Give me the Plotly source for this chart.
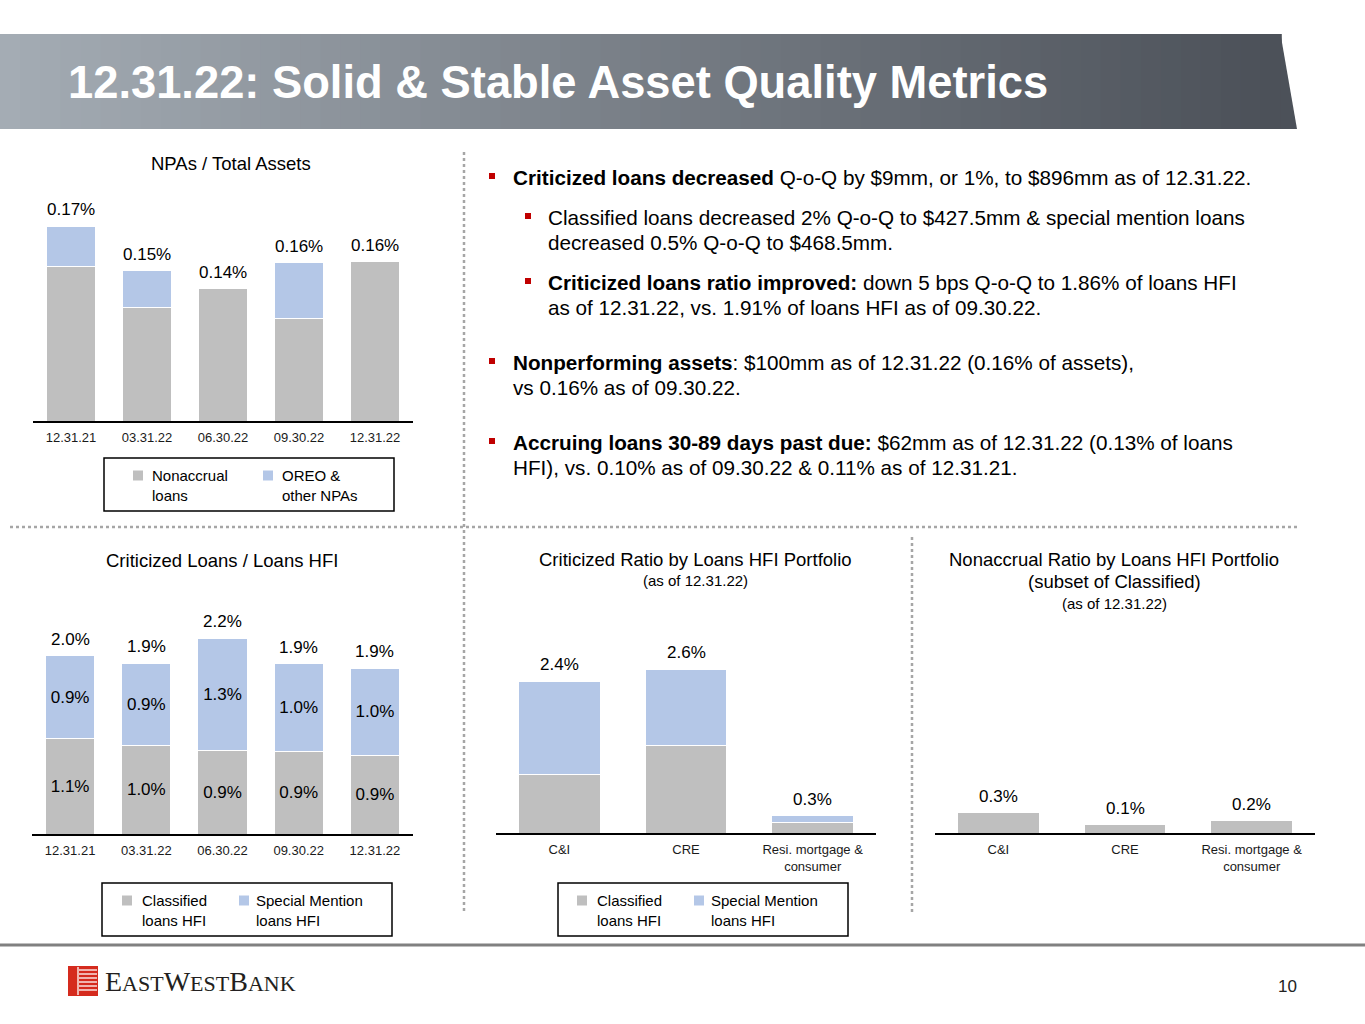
import numpy as np
import plotly.graph_objects as go

W = 1365
H = 1024

GRAY = "#bfbfbf"
BLUE = "#b4c7e7"
RED = "#c00000"
FONT = "Arial, Liberation Sans, sans-serif"

# NPAs / Total Assets
npa_dates = ["12.31.21", "03.31.22", "06.30.22", "09.30.22", "12.31.22"]
npa_nonaccrual = [0.155, 0.114, 0.133, 0.103, 0.160]
npa_oreo = [0.041, 0.037, 0.0, 0.056, 0.0]
npa_labels = ["0.17%", "0.15%", "0.14%", "0.16%", "0.16%"]

# Criticized Loans / Loans HFI
crit_dates = ["12.31.21", "03.31.22", "06.30.22", "09.30.22", "12.31.22"]
crit_classified = [1.07, 0.99, 0.93, 0.92, 0.88]
crit_special = [0.92, 0.92, 1.26, 0.98, 0.97]
crit_classified_labels = ["1.1%", "1.0%", "0.9%", "0.9%", "0.9%"]
crit_special_labels = ["0.9%", "0.9%", "1.3%", "1.0%", "1.0%"]
crit_total_labels = ["2.0%", "1.9%", "2.2%", "1.9%", "1.9%"]

# Criticized ratio by portfolio (as of 12.31.22)
portfolios = ["C&I", "CRE", "Resi. mortgage &<br>consumer"]
port_classified = [0.93, 1.39, 0.17]
port_special = [1.47, 1.20, 0.10]
port_labels = ["2.4%", "2.6%", "0.3%"]

# Nonaccrual ratio by portfolio (as of 12.31.22)
nonaccrual_ratio = [0.32, 0.13, 0.19]
nonaccrual_labels = ["0.3%", "0.1%", "0.2%"]

# bullet text: (level, lines)
bullets = [
    (0, ["<b>Criticized loans decreased</b> Q-o-Q by $9mm, or 1%, to $896mm as of 12.31.22."]),
    (1, ["Classified loans decreased 2% Q-o-Q to $427.5mm & special mention loans",
         "decreased 0.5% Q-o-Q to $468.5mm."]),
    (1, ["<b>Criticized loans ratio improved:</b> down 5 bps Q-o-Q to 1.86% of loans HFI",
         "as of 12.31.22, vs. 1.91% of loans HFI as of 09.30.22."]),
    (0, ["<b>Nonperforming assets</b>: $100mm as of 12.31.22 (0.16% of assets),",
         "vs 0.16% as of 09.30.22."]),
    (0, ["<b>Accruing loans 30-89 days past due:</b> $62mm as of 12.31.22 (0.13% of loans",
         "HFI), vs. 0.10% as of 09.30.22 & 0.11% as of 12.31.21."]),
]
bullet_y = [177, 217, 282, 362, 442]


def X(p):
    return p / W


def Y(p):
    return 1 - p / H


fig = go.Figure()


def setup_axes(n, x0, x1, base, top, px_per_unit):
    xa = "xaxis" if n == 1 else "xaxis%d" % n
    ya = "yaxis" if n == 1 else "yaxis%d" % n
    fig.update_layout(**{
        xa: dict(domain=[X(x0), X(x1)], anchor="y" if n == 1 else "y%d" % n,
                 showline=True, linecolor="black", linewidth=2, showgrid=False,
                 ticks="", ticklabelstandoff=3, tickfont=dict(size=13, color="#1a1a1a"),
                 fixedrange=True),
        ya: dict(domain=[Y(base), Y(top)], anchor="x" if n == 1 else "x%d" % n,
                 range=[0, (base - top) / px_per_unit], visible=False, fixedrange=True),
    })
    return ("x" if n == 1 else "x%d" % n), ("y" if n == 1 else "y%d" % n)


def bar(xr, yr, cats, vals, color, text=None):
    fig.add_trace(go.Bar(
        x=cats, y=vals, xaxis=xr, yaxis=yr, width=0.645,
        marker=dict(color=color, line=dict(color="white", width=1)),
        text=text, textposition="inside" if text else None, insidetextanchor="middle",
        textangle=0, textfont=dict(size=17, color="black"),
        showlegend=False, hoverinfo="skip"))


def totals(xr, yr, cats, tots, labels):
    for c, t, lab in zip(cats, tots, labels):
        fig.add_annotation(x=c, y=t, xref=xr, yref=yr, text=lab, showarrow=False,
                           yanchor="bottom", yshift=5, font=dict(size=17, color="black"))


# chart 1
xr, yr = setup_axes(1, 33, 413, 421, 201, 994)
bar(xr, yr, npa_dates, npa_nonaccrual, GRAY)
bar(xr, yr, npa_dates, npa_oreo, BLUE)
totals(xr, yr, npa_dates, np.add(npa_nonaccrual, npa_oreo), npa_labels)

# chart 2
xr, yr = setup_axes(2, 32, 413, 834, 614, 89.5)
bar(xr, yr, crit_dates, crit_classified, GRAY, crit_classified_labels)
bar(xr, yr, crit_dates, crit_special, BLUE, crit_special_labels)
totals(xr, yr, crit_dates, np.add(crit_classified, crit_special), crit_total_labels)

# chart 3
xr, yr = setup_axes(3, 496, 876, 833, 613, 63.3)
bar(xr, yr, portfolios, port_classified, GRAY)
bar(xr, yr, portfolios, port_special, BLUE)
totals(xr, yr, portfolios, np.add(port_classified, port_special), port_labels)

# chart 4
xr, yr = setup_axes(4, 935, 1315, 833, 613, 63.3)
bar(xr, yr, portfolios, nonaccrual_ratio, GRAY)
totals(xr, yr, portfolios, nonaccrual_ratio, nonaccrual_labels)

shapes = []
annotations = []


def text(x, y, s, size, color="black", anchor="center", bold=False):
    if anchor == "left":
        x -= 2
    annotations.append(dict(x=X(x), y=Y(y), xref="paper", yref="paper", text=s,
                            showarrow=False, xanchor=anchor, yanchor="middle",
                            font=dict(size=size, color=color, family=FONT),
                            align="left" if anchor == "left" else "center"))


def rect(x0, y0, x1, y1, fill=None, line=None, lw=1.5):
    shapes.append(dict(type="rect", xref="paper", yref="paper", x0=X(x0), x1=X(x1),
                       y0=Y(y0), y1=Y(y1), fillcolor=fill or "rgba(0,0,0,0)",
                       line=dict(color=line or "rgba(0,0,0,0)", width=lw if line else 0)))


def seg(x0, y0, x1, y1, color, width, dash="solid"):
    shapes.append(dict(type="line", xref="paper", yref="paper", x0=X(x0), x1=X(x1),
                       y0=Y(y0), y1=Y(y1), line=dict(color=color, width=width, dash=dash)))


# title banner with gradient
c0 = np.array([164, 172, 180])
c1 = np.array([76, 81, 89])
n = 64
edges = np.linspace(0, 1281, n + 1)
for i in range(n):
    c = c0 + (c1 - c0) * i / (n - 1)
    rect(edges[i], 34, edges[i + 1] + 0.8, 129, fill="rgb(%d,%d,%d)" % tuple(c))
shapes.append(dict(type="path", xref="paper", yref="paper",
                   path="M %f %f L %f %f L %f %f Z" % (X(1280.5), Y(34), X(1297), Y(129), X(1280.5), Y(129)),
                   fillcolor="rgb(76,81,89)", line=dict(width=0)))
text(68, 82, "<b>12.31.22: Solid & Stable Asset Quality Metrics</b>", 45.3, color="white", anchor="left")

# separators
seg(10, 527, 1298, 527, "#a6a6a6", 2.5, "dot")
seg(464, 152, 464, 912, "#a6a6a6", 2.5, "dot")
seg(912, 537, 912, 912, "#a6a6a6", 2.5, "dot")
seg(0, 945, 1365, 945, "#808080", 3)

# chart titles
text(231, 163, "NPAs / Total Assets", 18.5)
text(222, 560, "Criticized Loans / Loans HFI", 18.5)
text(695, 559, "Criticized Ratio by Loans HFI Portfolio", 18.5)
text(695, 580, "(as of 12.31.22)", 15)
text(1114, 559, "Nonaccrual Ratio by Loans HFI Portfolio", 18.5)
text(1114, 581, "(subset of Classified)", 18.5)
text(1114, 603, "(as of 12.31.22)", 15)

# legends
legends = [
    (104, 458, 394, 511, [(133, 152, GRAY, "Nonaccrual<br>loans"), (263, 282, BLUE, "OREO &<br>other NPAs")]),
    (102, 883, 392, 936, [(122, 142, GRAY, "Classified<br>loans HFI"), (239, 256, BLUE, "Special Mention<br>loans HFI")]),
    (558, 883, 848, 936, [(577, 597, GRAY, "Classified<br>loans HFI"), (694, 711, BLUE, "Special Mention<br>loans HFI")]),
]
for x0, y0, x1, y1, items in legends:
    rect(x0, y0, x1, y1, line="black", lw=1.5)
    ym = (y0 + y1) / 2
    for sx, tx, col, lab in items:
        rect(sx, ym - 14, sx + 10, ym - 4, fill=col)
        text(tx, ym + 0.5, lab, 15, anchor="left")

# bullets
for (lvl, lines), yy in zip(bullets, bullet_y):
    bx = 492 if lvl == 0 else 528
    tx = 513 if lvl == 0 else 548
    rect(bx - 3, yy - 4, bx + 3, yy + 2, fill=RED)
    for k, line in enumerate(lines):
        text(tx, yy + 25 * k, line, 20.7, anchor="left")

# footer logo and page number
rect(68, 966, 98, 996, fill="#d52b1e")
for yy in [970, 974, 978, 982, 986, 990]:
    seg(79, yy, 97, yy, "white", 1.3)
seg(78, 967, 78, 995, "white", 1.3)
annotations.append(dict(x=X(103), y=Y(981), xref="paper", yref="paper",
                        text="E<span style='font-size:22px'>AST</span>W<span style='font-size:22px'>EST</span>B<span style='font-size:22px'>ANK</span>",
                        showarrow=False, xanchor="left", yanchor="middle",
                        font=dict(size=28, color="#231f20", family="Liberation Serif, serif")))
text(1287, 986, "10", 17, color="#222")

fig.update_layout(
    width=W, height=H, margin=dict(l=0, r=0, t=0, b=0),
    paper_bgcolor="white", plot_bgcolor="rgba(0,0,0,0)",
    barmode="stack", font=dict(family=FONT, color="black"),
    shapes=shapes, annotations=list(fig.layout.annotations) + annotations,
    showlegend=False,
)

fig.write_html("out.html", config={"displayModeBar": False},
               post_script="document.body.style.margin='0';document.body.style.overflow='hidden';")
